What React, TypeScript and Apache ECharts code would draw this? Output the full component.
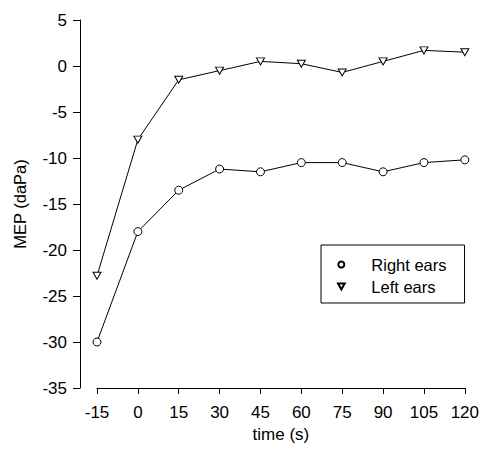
import React, { useEffect, useRef } from "react";
import * as echarts from "echarts";

const times = [-15, 0, 15, 30, 45, 60, 75, 90, 105, 120];
const rightEars = [-30, -18, -13.5, -11.2, -11.5, -10.5, -10.5, -11.5, -10.5, -10.2];
const leftEars = [-22.8, -8, -1.5, -0.5, 0.5, 0.25, -0.7, 0.5, 1.7, 1.5];
const yTicks = { min: -35, max: 5, interval: 5 };
const xTicks = { min: -15, max: 120, interval: 15 };

const FONT = "Liberation Sans, Arial, sans-serif";
const TRI = "path://M0,0L10,0L5,9Z";

export default function App() {
  const ref = useRef<HTMLDivElement>(null);
  useEffect(() => {
    if (!ref.current) return;
    const chart = echarts.init(ref.current, null, { renderer: "svg" });
    const pair = (arr: number[]) => times.map((t, i) => [t, arr[i]]);
    chart.setOption({
      animation: false,
      backgroundColor: "#fff",
      grid: { left: 97, right: 16, top: 20, bottom: 64 },
      xAxis: {
        type: "value",
        min: xTicks.min,
        max: xTicks.max,
        interval: xTicks.interval,
        name: "time (s)",
        nameLocation: "middle",
        nameGap: 37,
        nameTextStyle: { fontFamily: FONT, fontSize: 17, color: "#000" },
        axisLine: { show: true, onZero: false, lineStyle: { color: "#000", width: 1 } },
        axisTick: { show: true, length: 6, lineStyle: { color: "#000" } },
        axisLabel: { fontFamily: FONT, fontSize: 17, color: "#000", margin: 16 },
        splitLine: { show: false },
      },
      yAxis: {
        type: "value",
        min: yTicks.min,
        max: yTicks.max,
        interval: yTicks.interval,
        offset: 17,
        name: "MEP (daPa)",
        nameLocation: "middle",
        nameGap: 52,
        nameTextStyle: { fontFamily: FONT, fontSize: 16.5, color: "#000" },
        axisLine: { show: true, onZero: false, lineStyle: { color: "#000", width: 1 } },
        axisTick: { show: true, length: 7, lineStyle: { color: "#000" } },
        axisLabel: { fontFamily: FONT, fontSize: 17, color: "#000", margin: 13 },
        splitLine: { show: false },
      },
      legend: {
        orient: "vertical",
        left: 321,
        top: 245,
        padding: [11, 18, 8, 16],
        itemGap: 5,
        itemWidth: 40,
        itemHeight: 6,
        borderColor: "#000",
        borderWidth: 1,
        textStyle: { fontFamily: FONT, fontSize: 16.5, color: "#000", padding: [0, 0, 0, 5] },
        data: [
          { name: "Right ears", icon: "circle" },
          { name: "Left ears", icon: TRI },
        ],
      },
      series: [
        {
          name: "Right ears",
          type: "line",
          data: pair(rightEars),
          symbol: "circle",
          symbolSize: 8,
          showAllSymbol: true,
          lineStyle: { color: "#000", width: 1 },
          itemStyle: { color: "#fff", borderColor: "#000", borderWidth: 1 },
        },
        {
          name: "Left ears",
          type: "line",
          data: pair(leftEars),
          symbol: TRI,
          symbolSize: [8, 7],
          showAllSymbol: true,
          lineStyle: { color: "#000", width: 1 },
          itemStyle: { color: "#fff", borderColor: "#000", borderWidth: 1 },
        },
      ],
    });
    return () => chart.dispose();
  }, []);
  return <div ref={ref} style={{ width: 482, height: 452, position: "absolute", left: 0, top: 0 }} />;
}
